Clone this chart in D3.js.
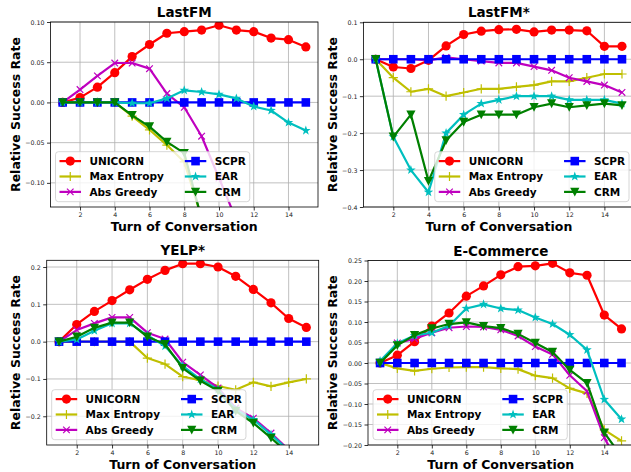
<!DOCTYPE html>
<html>
<head>
<meta charset="utf-8">
<script src="https://cdn.jsdelivr.net/npm/d3@7"></script>
<style>
  body { margin: 0; background: #fff; }
  svg { display: block; font-family: "DejaVu Sans", sans-serif; }
</style>
</head>
<body>
<svg width="631" height="472"></svg>
<script>
const turns = [1, 2, 3, 4, 5, 6, 7, 8, 9, 10, 11, 12, 13, 14, 15];
const xTicks = [2, 4, 6, 8, 10, 12, 14];
const methods = ["UNICORN", "Max Entropy", "Abs Greedy", "SCPR", "EAR", "CRM"];
const colors = ["#ff0000", "#bfbf00", "#bf00bf", "#0000ff", "#00bfbf", "#008000"];
const markers = ["circle", "plus", "x", "square", "star", "tri"];

// LastFM
const lastfmUnicorn = [0, 0.006, 0.019, 0.037, 0.057, 0.072, 0.086, 0.088, 0.090, 0.096, 0.090, 0.088, 0.080, 0.078, 0.069];
const lastfmMaxEnt  = [0, 0, 0, 0, -0.017, -0.034, -0.053, -0.074, -0.143, -0.21, -0.27, -0.32, -0.36, -0.39, -0.41];
const lastfmGreedy  = [0, 0.016, 0.033, 0.049, 0.049, 0.042, 0.011, -0.006, -0.042, -0.094, -0.146, -0.19, -0.23, -0.26, -0.29];
const lastfmScpr    = [0, 0, 0, 0, 0, 0, 0, 0, 0, 0, 0, 0, 0, 0, 0];
const lastfmEar     = [0, 0, 0, 0, -0.001, -0.001, 0.005, 0.015, 0.013, 0.010, 0.005, -0.005, -0.010, -0.025, -0.035];
const lastfmCrm     = [0, 0, 0, 0, -0.016, -0.030, -0.049, -0.063, -0.145, -0.21, -0.27, -0.32, -0.36, -0.39, -0.41];

// LastFM*
const lastfmStarUnicorn = [0, -0.021, -0.025, -0.003, 0.036, 0.067, 0.076, 0.080, 0.081, 0.074, 0.079, 0.079, 0.077, 0.035, 0.035];
const lastfmStarMaxEnt  = [0, -0.05, -0.088, -0.08, -0.10, -0.09, -0.08, -0.08, -0.075, -0.07, -0.06, -0.06, -0.05, -0.04, -0.04];
const lastfmStarGreedy  = [0, 0, 0, -0.003, 0.005, 0, -0.005, -0.01, -0.01, -0.02, -0.03, -0.05, -0.06, -0.07, -0.09];
const lastfmStarScpr    = [0, 0, 0, 0, 0, 0, 0, 0, 0, 0, 0, 0, 0, 0, 0];
const lastfmStarEar     = [0, -0.21, -0.30, -0.36, -0.20, -0.15, -0.12, -0.11, -0.10, -0.10, -0.10, -0.11, -0.11, -0.11, -0.12];
const lastfmStarCrm     = [0, -0.21, -0.15, -0.33, -0.22, -0.17, -0.15, -0.15, -0.15, -0.13, -0.12, -0.13, -0.125, -0.12, -0.125];

// YELP*
const yelpUnicorn = [0, 0.046, 0.081, 0.110, 0.139, 0.167, 0.191, 0.209, 0.209, 0.200, 0.175, 0.140, 0.104, 0.062, 0.038];
const yelpMaxEnt  = [0, 0, 0, 0, 0, -0.044, -0.060, -0.094, -0.103, -0.119, -0.129, -0.109, -0.120, -0.109, -0.100];
const yelpGreedy  = [0, 0.031, 0.049, 0.065, 0.065, 0.024, 0.007, -0.055, -0.089, -0.124, -0.178, -0.205, -0.245, -0.290, -0.33];
const yelpScpr    = [0, 0, 0, 0, 0, 0, 0, 0, 0, 0, 0, 0, 0, 0, 0];
const yelpEar     = [0, 0.006, 0.029, 0.049, 0.049, 0.017, -0.012, -0.065, -0.101, -0.128, -0.182, -0.209, -0.249, -0.292, -0.33];
const yelpCrm     = [0, 0.013, 0.037, 0.051, 0.051, 0.013, -0.007, -0.071, -0.105, -0.132, -0.186, -0.218, -0.258, -0.300, -0.34];

// E-Commerce
const ecomUnicorn = [0, 0.019, 0.052, 0.090, 0.122, 0.163, 0.188, 0.215, 0.235, 0.237, 0.243, 0.220, 0.214, 0.117, 0.083];
const ecomMaxEnt  = [0, -0.013, -0.019, -0.014, -0.011, -0.010, -0.010, -0.013, -0.015, -0.031, -0.037, -0.062, -0.074, -0.163, -0.190];
const ecomGreedy  = [0, 0.049, 0.059, 0.074, 0.086, 0.089, 0.088, 0.081, 0.066, 0.040, 0.021, -0.030, -0.069, -0.182, -0.26];
const ecomScpr    = [0, 0, 0, 0, 0, 0, 0, 0, 0, 0, 0, 0, 0, 0, 0];
const ecomEar     = [0.005, 0.048, 0.067, 0.074, 0.091, 0.133, 0.143, 0.133, 0.129, 0.111, 0.095, 0.069, 0.032, -0.089, -0.137];
const ecomCrm     = [0, 0.043, 0.068, 0.084, 0.095, 0.099, 0.090, 0.085, 0.071, 0.049, 0.027, -0.017, -0.049, -0.170, -0.228];

const titles = ["LastFM", "LastFM*", "YELP*", "E-Commerce"];
const yDomains = [[-0.13, 0.10], [-0.4, 0.1], [-0.277, 0.218], [-0.2, 0.25]];
const yTickSets = [
    [-0.10, -0.05, 0, 0.05, 0.10],
    [-0.4, -0.3, -0.2, -0.1, 0, 0.1],
    [-0.2, -0.1, 0, 0.1, 0.2],
    [-0.20, -0.15, -0.10, -0.05, 0, 0.05, 0.10, 0.15, 0.20, 0.25]
];
const yTickFormats = [".2f", ".1f", ".1f", ".2f"];

const series = [
    [lastfmUnicorn, lastfmMaxEnt, lastfmGreedy, lastfmScpr, lastfmEar, lastfmCrm],
    [lastfmStarUnicorn, lastfmStarMaxEnt, lastfmStarGreedy, lastfmStarScpr, lastfmStarEar, lastfmStarCrm],
    [yelpUnicorn, yelpMaxEnt, yelpGreedy, yelpScpr, yelpEar, yelpCrm],
    [ecomUnicorn, ecomMaxEnt, ecomGreedy, ecomScpr, ecomEar, ecomCrm]
];

// axes boxes in pixels (layout only)
const boxes = [
    { left: 50.5, right: 318, top: 22, bottom: 207, legend: "left", ylabX: 15 },
    { left: 363.4, right: 634.3, top: 22.3, bottom: 207, legend: "right", ylabX: 332 },
    { left: 46.7, right: 318.7, top: 260.3, bottom: 445, legend: "left", ylabX: 15 },
    { left: 368, right: 633.6, top: 260.5, bottom: 445, legend: "left", ylabX: 332 }
];

const svg = d3.select('svg');

/**
 * Draws one marker of given kind at (0,0) inside selection g
 */
function drawMarker(g, kind, color) {
    if (kind === "circle") {
        g.append('circle').attr('r', 4.6).attr('fill', color);
    } else if (kind === "square") {
        g.append('rect').attr('x', -4.3).attr('y', -4.3).attr('width', 8.6).attr('height', 8.6).attr('fill', color);
    } else if (kind === "plus") {
        g.append('path').attr('d', 'M-4.6,0H4.6M0,-4.6V4.6').attr('stroke', color).attr('stroke-width', 1.2);
    } else if (kind === "x") {
        g.append('path').attr('d', 'M-3.3,-3.3L3.3,3.3M-3.3,3.3L3.3,-3.3').attr('stroke', color).attr('stroke-width', 1.2);
    } else if (kind === "star") {
        const pts = d3.range(10).map(i => {
            const r = i % 2 === 0 ? 5 : 2;
            const a = -Math.PI / 2 + i * Math.PI / 5;
            return [r * Math.cos(a), r * Math.sin(a)];
        });
        g.append('path').attr('d', 'M' + pts.join('L') + 'Z').attr('fill', color);
    } else if (kind === "tri") {
        g.append('path').attr('d', 'M-4.6,-4.2L4.6,-4.2L0,4.6Z').attr('fill', color);
    }
}

function drawPanel(pi) {
    const b = boxes[pi];
    const x = d3.scaleLinear().domain([0.3, 15.7]).range([b.left, b.right]);
    const y = d3.scaleLinear().domain(yDomains[pi]).range([b.bottom, b.top]);
    const g = svg.append('g');

    const clipId = 'clip' + pi;
    svg.append('clipPath').attr('id', clipId)
        .append('rect')
        .attr('x', b.left).attr('y', b.top)
        .attr('width', b.right - b.left).attr('height', b.bottom - b.top);

    // grid
    g.append('g').selectAll('line').data(xTicks).join('line')
        .attr('x1', d => x(d)).attr('x2', d => x(d))
        .attr('y1', b.top).attr('y2', b.bottom)
        .attr('stroke', '#b0b0b0').attr('stroke-width', 0.8);
    g.append('g').selectAll('line').data(yTickSets[pi]).join('line')
        .attr('x1', b.left).attr('x2', b.right)
        .attr('y1', d => y(d)).attr('y2', d => y(d))
        .attr('stroke', '#b0b0b0').attr('stroke-width', 0.8);

    // series
    const plot = g.append('g').attr('clip-path', `url(#${clipId})`);
    const line = d3.line().x((d, i) => x(turns[i])).y(d => y(d));
    series[pi].forEach((vals, k) => {
        plot.append('path')
            .attr('d', line(vals))
            .attr('fill', 'none')
            .attr('stroke', colors[k])
            .attr('stroke-width', 2.2)
            .attr('stroke-linejoin', 'round');
        plot.append('g').selectAll('g').data(vals).join('g')
            .attr('transform', (d, i) => `translate(${x(turns[i])},${y(d)})`)
            .each(function () { drawMarker(d3.select(this), markers[k], colors[k]); });
    });

    // axes
    const xAxis = g.append('g')
        .attr('transform', `translate(0,${b.bottom})`)
        .call(d3.axisBottom(x).tickValues(xTicks).tickSize(3.5).tickPadding(2.5).tickFormat(d3.format('d')));
    const yAxis = g.append('g')
        .attr('transform', `translate(${b.left},0)`)
        .call(d3.axisLeft(y).tickValues(yTickSets[pi]).tickSize(3.5).tickPadding(2.5).tickFormat(d3.format(yTickFormats[pi])));
    [xAxis, yAxis].forEach(a => {
        a.select('.domain').remove();
        a.selectAll('line').attr('stroke', '#000').attr('stroke-width', 0.8);
        a.selectAll('text').attr('font-size', 6.3).attr('fill', '#222').attr('font-family', 'DejaVu Sans');
    });

    // frame
    g.append('rect')
        .attr('x', b.left).attr('y', b.top)
        .attr('width', b.right - b.left).attr('height', b.bottom - b.top)
        .attr('fill', 'none').attr('stroke', '#000').attr('stroke-width', 0.8);

    // labels
    const cx = (b.left + b.right) / 2;
    g.append('text').text(titles[pi])
        .attr('x', cx).attr('y', b.top - 5)
        .attr('text-anchor', 'middle').attr('font-size', 13.5).attr('font-weight', 'bold');
    g.append('text').text('Turn of Conversation')
        .attr('x', cx).attr('y', b.bottom + 23.5)
        .attr('text-anchor', 'middle').attr('font-size', 12.5).attr('font-weight', 'bold');
    g.append('text').text('Relative Success Rate')
        .attr('transform', `translate(${b.ylabX + 4.5},${(b.top + b.bottom) / 2}) rotate(-90)`)
        .attr('text-anchor', 'middle').attr('font-size', 12.5).attr('font-weight', 'bold');

    // legend
    const fs = 10.5, rowH = 15.4, handle = 21.5, pad = 4, gap = 8.4, colGap = 21;
    const leg = g.append('g');
    const box = leg.append('rect');
    const items = leg.selectAll('g').data(methods).join('g');
    items.append('text').text(d => d)
        .attr('font-size', fs).attr('font-weight', 'bold').attr('dy', '0.36em');
    const w1 = d3.max(items.filter((d, i) => i < 3).select('text').nodes(), n => n.getComputedTextLength());
    const w2 = d3.max(items.filter((d, i) => i >= 3).select('text').nodes(), n => n.getComputedTextLength());
    const legW = pad * 2 + 2 * (handle + gap) + w1 + colGap + w2;
    const legH = 50;
    const lx = b.legend === "left" ? b.left + 5 : Math.min(b.right, 631) - 5 - legW + 3;
    const ly = b.bottom - 5.3 - legH;
    box.attr('x', lx).attr('y', ly).attr('width', legW).attr('height', legH)
        .attr('rx', 3).attr('fill', 'white').attr('fill-opacity', 0.8)
        .attr('stroke', '#cccccc').attr('stroke-width', 0.8);
    items.attr('transform', (d, i) => {
        const col = Math.floor(i / 3), row = i % 3;
        const ix = lx + pad + col * (handle + gap + w1 + colGap);
        const iy = ly + 9.4 + row * rowH;
        return `translate(${ix},${iy})`;
    });
    items.select('text').attr('x', handle + gap);
    items.insert('line', 'text')
        .attr('x1', 0).attr('x2', handle)
        .attr('stroke', (d, i) => colors[i]).attr('stroke-width', 2.2);
    items.each(function (d, i) {
        const mg = d3.select(this).insert('g', 'text').attr('transform', `translate(${handle / 2},0)`);
        drawMarker(mg, markers[i], colors[i]);
    });
}

[0, 1, 2, 3].forEach(drawPanel);
</script>
</body>
</html>
